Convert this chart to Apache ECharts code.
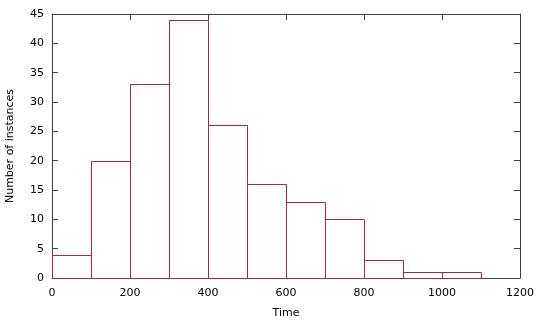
<!DOCTYPE html>
<html><head><meta charset="utf-8">
<script src="https://cdn.jsdelivr.net/npm/echarts@6/dist/echarts.min.js"></script>
<style>html,body{margin:0;padding:0;background:#fff}#c{width:540px;height:324px}</style>
</head><body><div id="c"></div>
<script>
var binStarts = [0,100,200,300,400,500,600,700,800,900,1000];
var binWidth = 100;
var counts = [4,20,33,44,26,16,13,10,3,1,1];
var xTicks = [0,200,400,600,800,1000,1200];
var yTicks = [0,5,10,15,20,25,30,35,40,45];

var data = binStarts.map(function(s,i){return [s, s+binWidth, counts[i]];});
var font = 'DejaVu Sans';
var axisCol = '#404040';
function fmt(v){return String(v);}
function axisBase(show){
  return {
    axisLine:{show:true,onZero:false,lineStyle:{color:axisCol,width:1}},
    axisTick:{show:true,inside:true,length:6,lineStyle:{color:axisCol}},
    splitLine:{show:false},
    axisLabel:{show:show,color:'#000',fontFamily:font,fontSize:11,formatter:fmt}
  };
}
var chart = echarts.init(document.getElementById('c'));
var xb = axisBase(true), xt = axisBase(false), yl = axisBase(true), yr = axisBase(false);
chart.setOption({
  animation:false,
  grid:{left:52,right:20,top:14,bottom:46,containLabel:false,outerBoundsMode:'none'},
  xAxis:[
    Object.assign({type:'value',position:'bottom',min:xTicks[0],max:xTicks[xTicks.length-1],interval:200,name:'Time',nameLocation:'middle',nameGap:30,
      nameTextStyle:{fontFamily:font,fontSize:11,color:'#000'}}, xb, {axisLabel:Object.assign({},xb.axisLabel,{margin:10})}),
    Object.assign({type:'value',position:'top',min:xTicks[0],max:xTicks[xTicks.length-1],interval:200}, xt)
  ],
  yAxis:[
    Object.assign({type:'value',position:'left',min:yTicks[0],max:yTicks[yTicks.length-1],interval:5,name:'Number of instances',nameLocation:'middle',nameGap:36,
      nameTextStyle:{fontFamily:font,fontSize:11,color:'#000'}}, yl, {axisLabel:Object.assign({},yl.axisLabel,{margin:8})}),
    Object.assign({type:'value',position:'right',min:yTicks[0],max:yTicks[yTicks.length-1],interval:5}, yr)
  ],
  series:[{
    type:'custom',
    xAxisIndex:0,yAxisIndex:0,
    data:data,
    encode:{x:[0,1],y:2},
    renderItem:function(params,api){
      var p0 = api.coord([api.value(0),0]);
      var p1 = api.coord([api.value(1),api.value(2)]);
      return {type:'rect',shape:{x:Math.round(p0[0])+0.5,y:Math.round(p1[1])+0.5,width:Math.round(p1[0])-Math.round(p0[0]),height:Math.round(p0[1])-Math.round(p1[1])},
        style:{fill:'none',stroke:'#a52a3c',lineWidth:1}};
    }
  }]
});
</script></body></html>
